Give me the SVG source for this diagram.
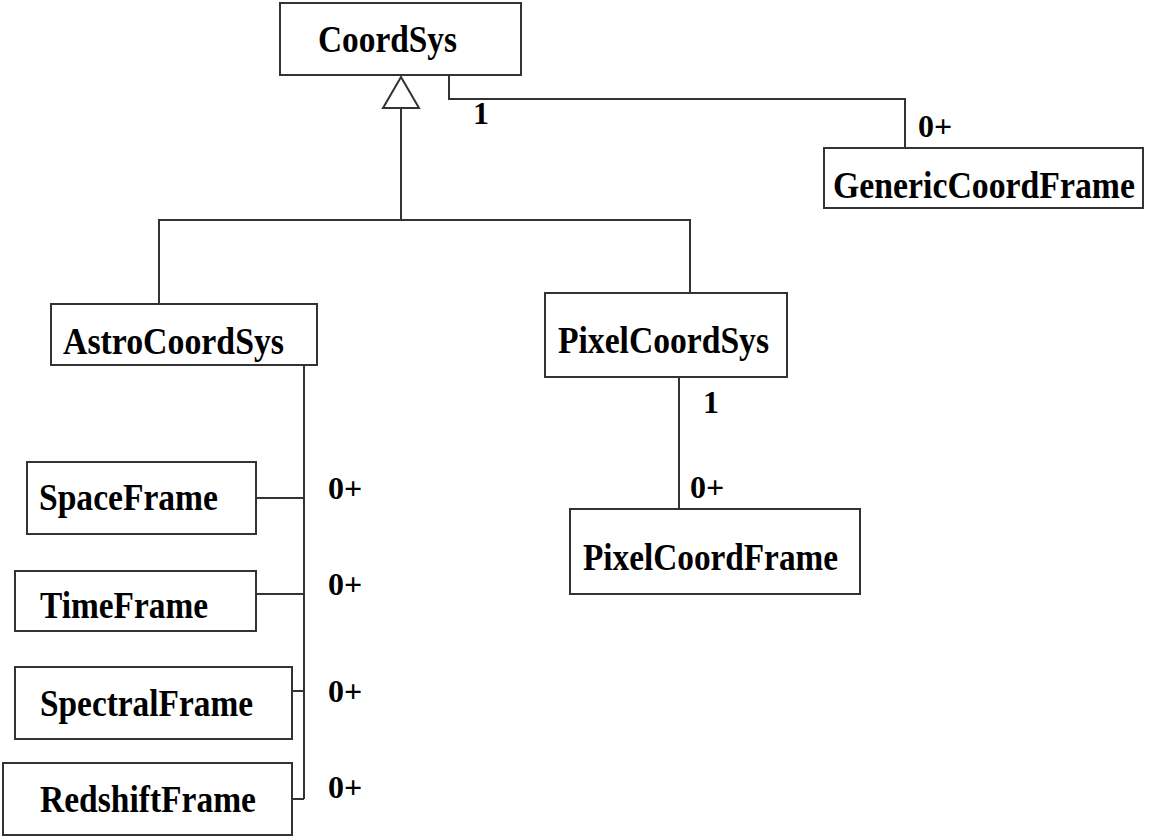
<svg xmlns="http://www.w3.org/2000/svg" width="1150" height="838" viewBox="0 0 1150 838">
<style>
.box{fill:#fff;stroke:#333;stroke-width:2}
.ln{fill:none;stroke:#333;stroke-width:2}
.t{font-family:"Liberation Serif","Times New Roman",serif;font-weight:bold;font-size:38px;fill:#000}
.m{font-family:"Liberation Serif","Times New Roman",serif;font-weight:bold;font-size:32px;fill:#000}
</style>
<rect width="1150" height="838" fill="#fff"/>
<g id="connectors">
<polyline class="ln" points="401,108 401,220"/>
<polygon class="ln" points="401,77 383,108 419,108" style="fill:#fff"/>
<polyline class="ln" points="159,305 159,220 690,220 690,293"/>
<polyline class="ln" points="449,75 449,99 905,99 905,148"/>
<polyline class="ln" points="679,377 679,509"/>
<polyline class="ln" points="304,366 304,799"/>
<line class="ln" x1="256" y1="498" x2="304" y2="498"/>
<line class="ln" x1="256" y1="594" x2="304" y2="594"/>
<line class="ln" x1="292" y1="691" x2="304" y2="691"/>
<line class="ln" x1="292" y1="799" x2="304" y2="799"/>
<text class="m" x="473" y="124">1</text>
<text class="m" x="918" y="137">0+</text>
<text class="m" x="703" y="413">1</text>
<text class="m" x="690" y="498">0+</text>
<text class="m" x="328" y="499">0+</text>
<text class="m" x="328" y="595">0+</text>
<text class="m" x="328" y="702">0+</text>
<text class="m" x="328" y="798">0+</text>
</g>
<g id="CoordSys"><rect class="box" x="280" y="3" width="241" height="72"/><text class="t" x="318" y="52" textLength="139" lengthAdjust="spacingAndGlyphs">CoordSys</text></g>
<g id="GenericCoordFrame"><rect class="box" x="824" y="148" width="319" height="60"/><text class="t" x="833" y="198" textLength="302" lengthAdjust="spacingAndGlyphs">GenericCoordFrame</text></g>
<g id="AstroCoordSys"><rect class="box" x="51" y="304" width="266" height="61"/><text class="t" x="63" y="354" textLength="221" lengthAdjust="spacingAndGlyphs">AstroCoordSys</text></g>
<g id="PixelCoordSys"><rect class="box" x="545" y="293" width="242" height="84"/><text class="t" x="558" y="353" textLength="211" lengthAdjust="spacingAndGlyphs">PixelCoordSys</text></g>
<g id="PixelCoordFrame"><rect class="box" x="570" y="509" width="290" height="85"/><text class="t" x="583" y="570" textLength="255" lengthAdjust="spacingAndGlyphs">PixelCoordFrame</text></g>
<g id="SpaceFrame"><rect class="box" x="27" y="462" width="229" height="72"/><text class="t" x="39" y="510" textLength="179" lengthAdjust="spacingAndGlyphs">SpaceFrame</text></g>
<g id="TimeFrame"><rect class="box" x="15" y="571" width="241" height="60"/><text class="t" x="40" y="618" textLength="168" lengthAdjust="spacingAndGlyphs">TimeFrame</text></g>
<g id="SpectralFrame"><rect class="box" x="15" y="667" width="277" height="72"/><text class="t" x="40" y="716" textLength="213" lengthAdjust="spacingAndGlyphs">SpectralFrame</text></g>
<g id="RedshiftFrame"><rect class="box" x="3" y="763" width="289" height="72"/><text class="t" x="40" y="812" textLength="216" lengthAdjust="spacingAndGlyphs">RedshiftFrame</text></g>
</svg>
